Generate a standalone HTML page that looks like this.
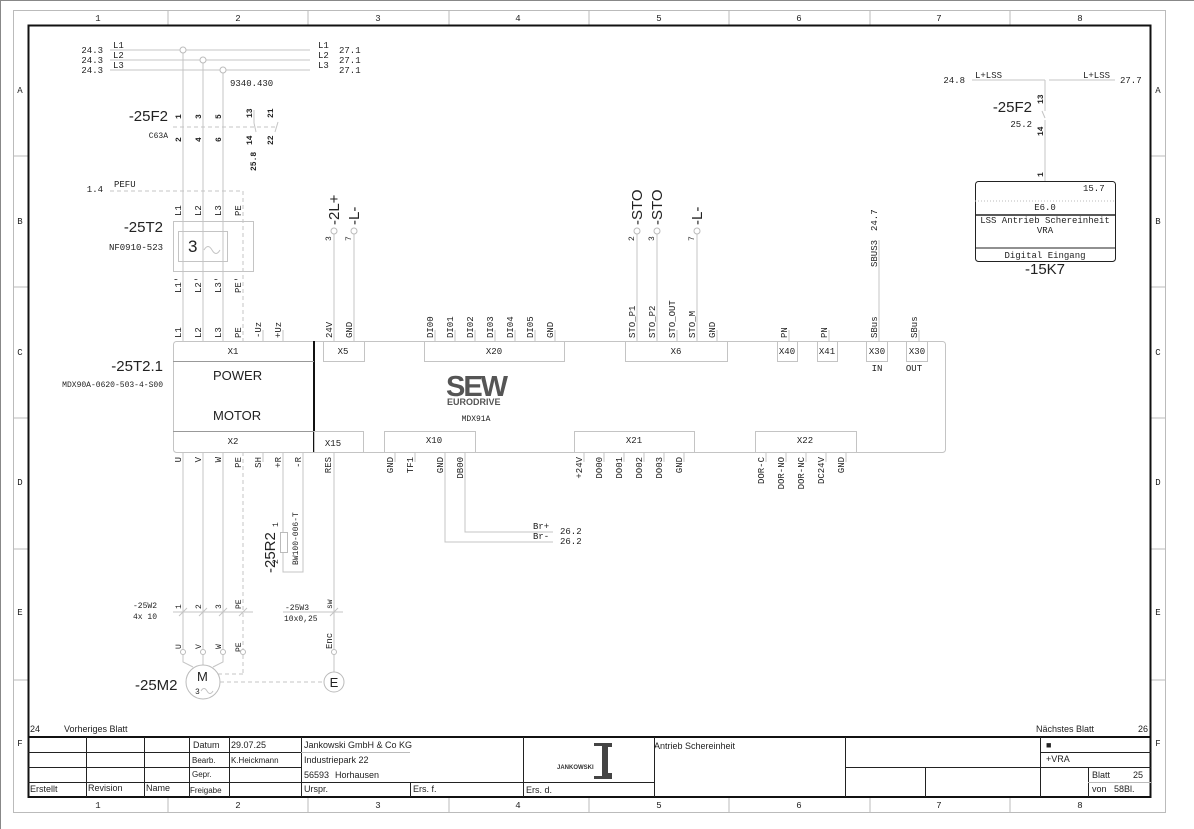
<!DOCTYPE html>
<html><head><meta charset="utf-8"><style>
html,body{margin:0;padding:0;background:#fff}
svg{display:block}
.w{stroke:#c4c4c4;fill:none;stroke-width:1}
.d{stroke:#c4c4c4;fill:none;stroke-width:1;stroke-dasharray:4,3}
.b{stroke:#bbb;fill:none;stroke-width:1}
text{font-family:"Liberation Mono",monospace;font-size:9px;fill:#222}
.s, .s text{font-size:8px}
.L, .L text{font-family:"Liberation Sans",sans-serif;font-size:15px}
.M{font-family:"Liberation Sans",sans-serif;font-size:13px}
.f, .f text{font-family:"Liberation Sans",sans-serif;font-size:9px}
</style></head><body>
<svg width="1194" height="829" viewBox="0 0 1194 829" xmlns="http://www.w3.org/2000/svg">
<rect x="0" y="0" width="1194" height="829" fill="#fff"/>
<line x1="0" y1="0.5" x2="1194" y2="0.5" stroke="#888"/>
<line x1="0.5" y1="0" x2="0.5" y2="829" stroke="#888"/>
<rect x="13.5" y="10.5" width="1152" height="802" class="b"/>
<g class="b">
<line x1="168" y1="10" x2="168" y2="25"/><line x1="308" y1="10" x2="308" y2="25"/><line x1="449" y1="10" x2="449" y2="25"/><line x1="589" y1="10" x2="589" y2="25"/><line x1="729" y1="10" x2="729" y2="25"/><line x1="870" y1="10" x2="870" y2="25"/><line x1="1010" y1="10" x2="1010" y2="25"/>
<line x1="168" y1="797" x2="168" y2="812"/><line x1="308" y1="797" x2="308" y2="812"/><line x1="449" y1="797" x2="449" y2="812"/><line x1="589" y1="797" x2="589" y2="812"/><line x1="729" y1="797" x2="729" y2="812"/><line x1="870" y1="797" x2="870" y2="812"/><line x1="1010" y1="797" x2="1010" y2="812"/>
<line x1="13" y1="156" x2="28" y2="156"/><line x1="13" y1="287" x2="28" y2="287"/><line x1="13" y1="418" x2="28" y2="418"/><line x1="13" y1="549" x2="28" y2="549"/><line x1="13" y1="680" x2="28" y2="680"/>
<line x1="1151" y1="156" x2="1166" y2="156"/><line x1="1151" y1="287" x2="1166" y2="287"/><line x1="1151" y1="418" x2="1166" y2="418"/><line x1="1151" y1="549" x2="1166" y2="549"/><line x1="1151" y1="680" x2="1166" y2="680"/>
</g>
<g text-anchor="middle">
<text x="98" y="21">1</text><text x="238" y="21">2</text><text x="378" y="21">3</text><text x="518" y="21">4</text><text x="659" y="21">5</text><text x="799" y="21">6</text><text x="939" y="21">7</text><text x="1080" y="21">8</text>
<text x="98" y="808">1</text><text x="238" y="808">2</text><text x="378" y="808">3</text><text x="518" y="808">4</text><text x="659" y="808">5</text><text x="799" y="808">6</text><text x="939" y="808">7</text><text x="1080" y="808">8</text>
<text x="20" y="93">A</text><text x="20" y="224">B</text><text x="20" y="355">C</text><text x="20" y="485">D</text><text x="20" y="615">E</text><text x="20" y="746">F</text>
<text x="1158" y="93">A</text><text x="1158" y="224">B</text><text x="1158" y="355">C</text><text x="1158" y="485">D</text><text x="1158" y="615">E</text><text x="1158" y="746">F</text>
</g>
<rect x="28.5" y="25.5" width="1122" height="771.5" fill="none" stroke="#111" stroke-width="2"/>
<line x1="28" y1="737" x2="1151" y2="737" stroke="#111" stroke-width="2"/>

<g class="w">
<line x1="110" y1="50" x2="310" y2="50"/><line x1="110" y1="60" x2="310" y2="60"/><line x1="110" y1="70" x2="310" y2="70"/>
<line x1="183" y1="53" x2="183" y2="341"/><line x1="203" y1="63" x2="203" y2="341"/><line x1="223" y1="73" x2="223" y2="341"/>
</g>
<g fill="#fff" stroke="#bbb"><circle cx="183" cy="50" r="3"/><circle cx="203" cy="60" r="3"/><circle cx="223" cy="70" r="3"/></g>
<text x="103" y="53" text-anchor="end">24.3</text><text x="103" y="63" text-anchor="end">24.3</text><text x="103" y="73" text-anchor="end">24.3</text>
<text x="113" y="48">L1</text><text x="113" y="58">L2</text><text x="113" y="68">L3</text>
<text x="318" y="48">L1</text><text x="318" y="58">L2</text><text x="318" y="68">L3</text>
<text x="339" y="53">27.1</text><text x="339" y="63">27.1</text><text x="339" y="73">27.1</text>
<text x="230" y="86">9340.430</text>

<text class="L" x="168" y="121" text-anchor="end">-25F2</text>
<text x="168" y="138" text-anchor="end" class="s">C63A</text>
<g class="s" font-weight="bold">
<text transform="rotate(-90 181 119)" x="181" y="119">1</text><text transform="rotate(-90 201 119)" x="201" y="119">3</text><text transform="rotate(-90 221 119)" x="221" y="119">5</text>
<text transform="rotate(-90 181 142)" x="181" y="142">2</text><text transform="rotate(-90 201 142)" x="201" y="142">4</text><text transform="rotate(-90 221 142)" x="221" y="142">6</text>
<text transform="rotate(-90 252 118)" x="252" y="118">13</text><text transform="rotate(-90 273 118)" x="273" y="118">21</text>
<text transform="rotate(-90 252 145)" x="252" y="145">14</text><text transform="rotate(-90 273 145)" x="273" y="145">22</text>
<text transform="rotate(-90 256 171)" x="256" y="171">25.8</text>
</g>
<line x1="173" y1="127" x2="278" y2="127" class="d"/>
<g class="w"><line x1="254" y1="110" x2="254" y2="123"/><line x1="254" y1="123" x2="256" y2="132"/><line x1="275" y1="132" x2="278" y2="122"/></g>

<text x="103" y="192" text-anchor="end">1.4</text><text x="114" y="187">PEFU</text>
<polyline points="110,191 243,191 243,341" class="d"/>
<rect x="173.5" y="221.5" width="80" height="50" class="w"/>
<rect x="178.5" y="231.5" width="49" height="30" class="w"/>
<text class="L" x="188" y="252" style="font-size:17px">3</text>
<path d="M204 250 q4 -7 8 0 q4 7 8 0" class="w"/>
<text class="L" x="163" y="232" text-anchor="end">-25T2</text>
<text x="163" y="250" text-anchor="end">NF0910-523</text>
<g>
<text transform="rotate(-90 181 216)" x="181" y="216">L1</text><text transform="rotate(-90 201 216)" x="201" y="216">L2</text><text transform="rotate(-90 221 216)" x="221" y="216">L3</text><text transform="rotate(-90 241 216)" x="241" y="216">PE</text>
<text transform="rotate(-90 181 293)" x="181" y="293">L1'</text><text transform="rotate(-90 201 293)" x="201" y="293">L2'</text><text transform="rotate(-90 221 293)" x="221" y="293">L3'</text><text transform="rotate(-90 241 293)" x="241" y="293">PE'</text>
</g>

<g>
<text transform="rotate(-90 181 338)" x="181" y="338">L1</text><text transform="rotate(-90 201 338)" x="201" y="338">L2</text><text transform="rotate(-90 221 338)" x="221" y="338">L3</text><text transform="rotate(-90 241 338)" x="241" y="338">PE</text><text transform="rotate(-90 261 338)" x="261" y="338">-Uz</text><text transform="rotate(-90 281 338)" x="281" y="338">+Uz</text>
<text transform="rotate(-90 332 338)" x="332" y="338">24V</text><text transform="rotate(-90 352 338)" x="352" y="338">GND</text>
<text transform="rotate(-90 433 338)" x="433" y="338">DI00</text><text transform="rotate(-90 453 338)" x="453" y="338">DI01</text><text transform="rotate(-90 473 338)" x="473" y="338">DI02</text><text transform="rotate(-90 493 338)" x="493" y="338">DI03</text><text transform="rotate(-90 513 338)" x="513" y="338">DI04</text><text transform="rotate(-90 533 338)" x="533" y="338">DI05</text><text transform="rotate(-90 553 338)" x="553" y="338">GND</text>
<text transform="rotate(-90 635 338)" x="635" y="338">STO_P1</text><text transform="rotate(-90 655 338)" x="655" y="338">STO_P2</text><text transform="rotate(-90 675 338)" x="675" y="338">STO_OUT</text><text transform="rotate(-90 695 338)" x="695" y="338">STO_M</text><text transform="rotate(-90 715 338)" x="715" y="338">GND</text>
<text transform="rotate(-90 787 338)" x="787" y="338">PN</text><text transform="rotate(-90 827 338)" x="827" y="338">PN</text>
<text transform="rotate(-90 877 338)" x="877" y="338">SBus</text><text transform="rotate(-90 917 338)" x="917" y="338">SBus</text>
</g>
<g class="w">
<line x1="263" y1="330" x2="263" y2="341"/><line x1="283" y1="330" x2="283" y2="341"/>
<line x1="334" y1="234" x2="334" y2="341"/><line x1="354" y1="234" x2="354" y2="341"/>
<line x1="435" y1="330" x2="435" y2="341"/><line x1="455" y1="330" x2="455" y2="341"/><line x1="475" y1="330" x2="475" y2="341"/><line x1="495" y1="330" x2="495" y2="341"/><line x1="515" y1="330" x2="515" y2="341"/><line x1="535" y1="330" x2="535" y2="341"/><line x1="555" y1="330" x2="555" y2="341"/>
<line x1="637" y1="234" x2="637" y2="341"/><line x1="657" y1="234" x2="657" y2="341"/><line x1="677" y1="330" x2="677" y2="341"/><line x1="697" y1="234" x2="697" y2="341"/><line x1="717" y1="330" x2="717" y2="341"/>
<line x1="789" y1="330" x2="789" y2="341"/><line x1="829" y1="330" x2="829" y2="341"/>
<line x1="879" y1="240" x2="879" y2="341"/><line x1="919" y1="330" x2="919" y2="341"/>
</g>
<g fill="#fff" stroke="#bbb"><circle cx="334" cy="231" r="3"/><circle cx="354" cy="231" r="3"/><circle cx="637" cy="231" r="3"/><circle cx="657" cy="231" r="3"/><circle cx="697" cy="231" r="3"/></g>
<g class="s">
<text transform="rotate(-90 331 241)" x="331" y="241">3</text><text transform="rotate(-90 351 241)" x="351" y="241">7</text>
<text transform="rotate(-90 634 241)" x="634" y="241">2</text><text transform="rotate(-90 654 241)" x="654" y="241">3</text><text transform="rotate(-90 694 241)" x="694" y="241">7</text>
</g>
<g class="L">
<text transform="rotate(-90 339 225)" x="339" y="225">-2L+</text><text transform="rotate(-90 359 225)" x="359" y="225">-L-</text>
<text transform="rotate(-90 642 225)" x="642" y="225">-STO</text><text transform="rotate(-90 662 225)" x="662" y="225">-STO</text><text transform="rotate(-90 702 225)" x="702" y="225">-L-</text>
</g>
<text transform="rotate(-90 877 267)" x="877" y="267">SBUS3</text>
<text transform="rotate(-90 877 231)" x="877" y="231">24.7</text>

<rect x="173.5" y="341.5" width="772" height="111" rx="3" class="w"/>
<line x1="314" y1="341" x2="314" y2="452" stroke="#111" stroke-width="2"/>
<line x1="173" y1="361.5" x2="314" y2="361.5" stroke="#999"/>
<line x1="173" y1="431.5" x2="314" y2="431.5" stroke="#999"/>
<text x="233" y="354" text-anchor="middle">X1</text><text x="233" y="444" text-anchor="middle">X2</text>
<text class="M" x="213" y="380">POWER</text><text class="M" x="213" y="420">MOTOR</text>
<g class="w">
<rect x="323.5" y="341.5" width="41" height="20"/><rect x="424.5" y="341.5" width="140" height="20"/><rect x="625.5" y="341.5" width="102" height="20"/>
<rect x="777.5" y="341.5" width="20" height="20"/><rect x="817.5" y="341.5" width="20" height="20"/><rect x="866.5" y="341.5" width="21" height="20"/><rect x="906.5" y="341.5" width="21" height="20"/>
<rect x="314.5" y="431.5" width="49" height="21"/><rect x="384.5" y="431.5" width="91" height="21"/><rect x="574.5" y="431.5" width="120" height="21"/><rect x="755.5" y="431.5" width="101" height="21"/>
</g>
<g text-anchor="middle">
<text x="343" y="354">X5</text><text x="494" y="354">X20</text><text x="676" y="354">X6</text><text x="787" y="354">X40</text><text x="827" y="354">X41</text><text x="877" y="354">X30</text><text x="917" y="354">X30</text>
<text x="333" y="446">X15</text><text x="434" y="443">X10</text><text x="634" y="443">X21</text><text x="805" y="443">X22</text>
<text x="877" y="371">IN</text><text x="914" y="371">OUT</text>
</g>
<text class="L" x="163" y="371" text-anchor="end">-25T2.1</text>
<text x="163" y="387" text-anchor="end" class="s">MDX90A-0620-503-4-S00</text>
<text x="446" y="396" style="font-family:'Liberation Sans';font-size:29px;font-weight:bold;fill:#555;letter-spacing:-2px">SEW</text>
<text x="447" y="405" style="font-family:'Liberation Sans';font-size:9px;font-weight:bold;fill:#555">EURODRIVE</text>
<text x="476" y="421" text-anchor="middle" class="s">MDX91A</text>

<g>
<text transform="rotate(-90 181 457)" x="181" y="457" text-anchor="end">U</text><text transform="rotate(-90 201 457)" x="201" y="457" text-anchor="end">V</text><text transform="rotate(-90 221 457)" x="221" y="457" text-anchor="end">W</text><text transform="rotate(-90 241 457)" x="241" y="457" text-anchor="end">PE</text><text transform="rotate(-90 261 457)" x="261" y="457" text-anchor="end">SH</text><text transform="rotate(-90 281 457)" x="281" y="457" text-anchor="end">+R</text><text transform="rotate(-90 301 457)" x="301" y="457" text-anchor="end">-R</text>
<text transform="rotate(-90 331 457)" x="331" y="457" text-anchor="end">RES</text>
<text transform="rotate(-90 393 457)" x="393" y="457" text-anchor="end">GND</text><text transform="rotate(-90 413 457)" x="413" y="457" text-anchor="end">TF1</text><text transform="rotate(-90 443 457)" x="443" y="457" text-anchor="end">GND</text><text transform="rotate(-90 463 457)" x="463" y="457" text-anchor="end">DB00</text>
<text transform="rotate(-90 582 457)" x="582" y="457" text-anchor="end">+24V</text><text transform="rotate(-90 602 457)" x="602" y="457" text-anchor="end">DO00</text><text transform="rotate(-90 622 457)" x="622" y="457" text-anchor="end">DO01</text><text transform="rotate(-90 642 457)" x="642" y="457" text-anchor="end">DO02</text><text transform="rotate(-90 662 457)" x="662" y="457" text-anchor="end">DO03</text><text transform="rotate(-90 682 457)" x="682" y="457" text-anchor="end">GND</text>
<text transform="rotate(-90 764 457)" x="764" y="457" text-anchor="end">DOR-C</text><text transform="rotate(-90 784 457)" x="784" y="457" text-anchor="end">DOR-NO</text><text transform="rotate(-90 804 457)" x="804" y="457" text-anchor="end">DOR-NC</text><text transform="rotate(-90 824 457)" x="824" y="457" text-anchor="end">DC24V</text><text transform="rotate(-90 844 457)" x="844" y="457" text-anchor="end">GND</text>
</g>
<g class="w">
<line x1="183" y1="452" x2="183" y2="649"/><line x1="203" y1="452" x2="203" y2="649"/><line x1="223" y1="452" x2="223" y2="649"/>
<line x1="263" y1="452" x2="263" y2="462"/>
<polyline points="283,452 283,572 303,572 303,452"/>
<line x1="334" y1="452" x2="334" y2="649"/>
<line x1="395" y1="452" x2="395" y2="462"/><line x1="415" y1="452" x2="415" y2="462"/>
<polyline points="445,452 445,542 553,542"/><polyline points="465,452 465,532 553,532"/>
<line x1="584" y1="452" x2="584" y2="462"/><line x1="604" y1="452" x2="604" y2="462"/><line x1="624" y1="452" x2="624" y2="462"/><line x1="644" y1="452" x2="644" y2="462"/><line x1="664" y1="452" x2="664" y2="462"/><line x1="684" y1="452" x2="684" y2="462"/>
<line x1="766" y1="452" x2="766" y2="462"/><line x1="786" y1="452" x2="786" y2="462"/><line x1="806" y1="452" x2="806" y2="462"/><line x1="826" y1="452" x2="826" y2="462"/><line x1="846" y1="452" x2="846" y2="462"/>
</g>
<line x1="243" y1="452" x2="243" y2="674" class="d"/>
<polyline points="243,674 214,674" class="d"/>
<text x="533" y="529">Br+</text><text x="533" y="539">Br-</text>
<text x="560" y="534">26.2</text><text x="560" y="544">26.2</text>

<rect x="280.5" y="532.5" width="7" height="20" fill="#fff" stroke="#bbb"/>
<text transform="rotate(-90 298 565)" x="298" y="565" class="s">BW100-006-T</text>
<text transform="rotate(-90 278 527)" x="278" y="527" class="s">1</text>
<text transform="rotate(-90 278 564)" x="278" y="564" class="s">2</text>
<text transform="rotate(-90 275 573)" x="275" y="573" class="L">-25R2</text>

<line x1="173" y1="612" x2="253" y2="612" class="w"/>
<line x1="283" y1="612" x2="343" y2="612" class="w"/>
<g class="w"><line x1="179" y1="616" x2="187" y2="608"/><line x1="199" y1="616" x2="207" y2="608"/><line x1="219" y1="616" x2="227" y2="608"/><line x1="239" y1="616" x2="247" y2="608"/><line x1="330" y1="616" x2="338" y2="608"/></g>
<text x="133" y="608" class="s">-25W2</text><text x="133" y="619" class="s">4x 10</text>
<text x="285" y="610" class="s">-25W3</text><text x="284" y="621" class="s">10x0,25</text>
<g class="s">
<text transform="rotate(-90 181 609)" x="181" y="609">1</text><text transform="rotate(-90 201 609)" x="201" y="609">2</text><text transform="rotate(-90 221 609)" x="221" y="609">3</text><text transform="rotate(-90 241 609)" x="241" y="609">PE</text><text transform="rotate(-90 332 609)" x="332" y="609">sw</text>
<text transform="rotate(-90 181 649)" x="181" y="649">U</text><text transform="rotate(-90 201 649)" x="201" y="649">V</text><text transform="rotate(-90 221 649)" x="221" y="649">W</text><text transform="rotate(-90 241 652)" x="241" y="652">PE</text>
</g>
<text transform="rotate(-90 332 649)" x="332" y="649">Enc</text>
<g fill="#fff" stroke="#bbb"><circle cx="183" cy="652" r="2.5"/><circle cx="203" cy="652" r="2.5"/><circle cx="223" cy="652" r="2.5"/><circle cx="243" cy="652" r="2.5"/><circle cx="334" cy="652" r="2.5"/></g>
<g class="w"><polyline points="183,655 183,662 193,667"/><line x1="203" y1="655" x2="203" y2="665"/><polyline points="223,655 223,662 213,667"/><line x1="334" y1="655" x2="334" y2="672"/></g>
<circle cx="203" cy="682" r="17" fill="#fff" stroke="#bbb"/>
<text class="M" x="197" y="681">M</text><text x="195" y="694" class="s">3</text>
<path d="M201 691 q3 -5 6 0 q3 5 6 0" class="w"/>
<line x1="220" y1="682" x2="323" y2="682" class="d"/>
<circle cx="334" cy="682" r="10" fill="#fff" stroke="#bbb"/>
<text class="M" x="334" y="687" text-anchor="middle">E</text>
<text class="L" x="135" y="690">-25M2</text>

<g class="w"><line x1="972" y1="80" x2="1045" y2="80"/><line x1="1049" y1="80" x2="1115" y2="80"/><line x1="1045" y1="80" x2="1045" y2="111"/><line x1="1042" y1="111" x2="1045" y2="118"/><line x1="1045" y1="120" x2="1045" y2="181"/></g>
<text x="965" y="83" text-anchor="end">24.8</text><text x="975" y="78">L+LSS</text><text x="1083" y="78">L+LSS</text><text x="1120" y="83">27.7</text>
<text class="L" x="1032" y="112" text-anchor="end">-25F2</text>
<text x="1032" y="127" text-anchor="end">25.2</text>
<g class="s" font-weight="bold"><text transform="rotate(-90 1043 104)" x="1043" y="104">13</text><text transform="rotate(-90 1043 136)" x="1043" y="136">14</text><text transform="rotate(-90 1043 177)" x="1043" y="177">1</text></g>
<rect x="975.5" y="181.5" width="140" height="80" rx="3" fill="#fff" stroke="#222"/>
<line x1="975" y1="201" x2="1115" y2="201" stroke="#bbb" stroke-dasharray="1,2"/>
<line x1="975" y1="215" x2="1115" y2="215" stroke="#222" stroke-width="1.5"/>
<line x1="975" y1="248" x2="1115" y2="248" stroke="#222"/>
<text x="1083" y="191">15.7</text>
<text x="1045" y="210" text-anchor="middle">E6.0</text>
<text x="1045" y="223" text-anchor="middle">LSS Antrieb Schereinheit</text>
<text x="1045" y="233" text-anchor="middle">VRA</text>
<text x="1045" y="258" text-anchor="middle">Digital Eingang</text>
<text class="L" x="1045" y="274" text-anchor="middle">-15K7</text>

<text x="30" y="732" class="f">24</text><text x="64" y="732" class="f">Vorheriges Blatt</text>
<text x="1036" y="732" class="f">Nächstes Blatt</text><text x="1138" y="732" class="f">26</text>
<g stroke="#222" fill="none">
<line x1="28" y1="752.5" x2="301" y2="752.5"/><line x1="28" y1="767.5" x2="301" y2="767.5"/><line x1="28" y1="782.5" x2="654" y2="782.5"/>
<line x1="86.5" y1="737" x2="86.5" y2="797"/><line x1="144.5" y1="737" x2="144.5" y2="797"/><line x1="189.5" y1="737" x2="189.5" y2="797"/><line x1="229.5" y1="737" x2="229.5" y2="797"/><line x1="301.5" y1="737" x2="301.5" y2="797"/>
<line x1="301" y1="752.5" x2="410" y2="752.5" stroke="#bbb"/>
<line x1="410.5" y1="782" x2="410.5" y2="797"/><line x1="523.5" y1="737" x2="523.5" y2="797"/><line x1="654.5" y1="737" x2="654.5" y2="797"/>
<line x1="845.5" y1="737" x2="845.5" y2="797"/><line x1="845" y1="767.5" x2="1151" y2="767.5"/>
<line x1="925.5" y1="767" x2="925.5" y2="797"/><line x1="1040.5" y1="737" x2="1040.5" y2="797"/>
<line x1="1040" y1="752.5" x2="1151" y2="752.5"/><line x1="1088.5" y1="767" x2="1088.5" y2="797"/><line x1="1088" y1="782.5" x2="1151" y2="782.5" stroke="#bbb"/>
</g>
<g class="f">
<text x="193" y="748">Datum</text><text x="231" y="748">29.07.25</text>
<text x="192" y="763" style="font-size:8px">Bearb.</text><text x="231" y="763" style="font-size:8px">K.Heickmann</text>
<text x="192" y="777" style="font-size:8px">Gepr.</text>
<text x="30" y="792">Erstellt</text><text x="88" y="791">Revision</text><text x="146" y="791">Name</text><text x="190" y="793" style="font-size:8px">Freigabe</text>
<text x="304" y="748">Jankowski GmbH &amp; Co KG</text><text x="304" y="763">Industriepark 22</text><text x="304" y="778">56593</text><text x="335" y="778">Horhausen</text>
<text x="304" y="792">Urspr.</text><text x="413" y="792">Ers. f.</text><text x="526" y="793">Ers. d.</text>
<text x="654" y="749">Antrieb Schereinheit</text>
<text x="1046" y="748">■</text><text x="1046" y="762">+VRA</text>
<text x="1092" y="778">Blatt</text><text x="1133" y="778">25</text><text x="1092" y="792">von</text><text x="1114" y="792">58Bl.</text>
</g>
<path d="M594 743 h18 v4 h-4 v26 h4 v6 h-18 v-3 h8 v-30 h-8 z" fill="#444"/>
<text x="557" y="769" style="font-family:'Liberation Sans';font-size:6px;font-weight:bold;fill:#333">JANKOWSKI</text>
</svg>
</body></html>
